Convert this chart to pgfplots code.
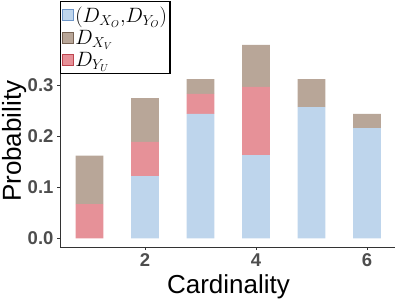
\documentclass[border=0pt]{standalone}
\usepackage{pgfplots}
\pgfplotsset{compat=1.18}
\usepackage{fontspec}
\setmainfont{Liberation Sans}
\definecolor{cblue}{RGB}{190,213,236}
\definecolor{cred}{RGB}{230,145,152}
\definecolor{cbrown}{RGB}{184,166,152}
\definecolor{bblue}{RGB}{110,150,200}
\definecolor{bred}{RGB}{190,70,80}
\definecolor{bbrown}{RGB}{120,100,85}
\definecolor{tickgray}{RGB}{77,77,77}
\pgfplotstableread{
x blue red brown
1 0     0.067 0.095
2 0.122 0.067 0.086
3 0.244 0.039 0.029
4 0.163 0.134 0.082
5 0.257 0     0.055
6 0.216 0     0.028
}\data
\begin{document}
\begin{tikzpicture}
\path[use as bounding box] (0,0) rectangle (398pt,299pt);
\begin{axis}[
  at={(60pt,51.8pt)}, anchor=south west,
  scale only axis, width=335pt, height=211.9pt,
  xmin=0.468, xmax=6.505, ymin=-0.0175, ymax=0.398,
  ybar stacked, bar width=0.5,
  axis lines=left, axis line style={-, draw=black!80, line width=0.9pt},
  xtick={2,4,6}, ytick={0,0.1,0.2,0.3},
  tick style={draw=black!80, line width=0.9pt},
  tick align=outside, major tick length=3pt,
  ticklabel style={font=\bfseries\fontsize{18.5}{18.5}\selectfont, text=tickgray},
  yticklabel style={/pgf/number format/.cd, fixed, zerofill, precision=1, assume math mode=true},
  xticklabel style={/pgf/number format/assume math mode=true},
  xlabel={Cardinality}, ylabel={Probability},
  label style={font=\fontsize{26}{26}\selectfont},
  xlabel style={at={(axis description cs:0.503,-0.22)}, anchor=base},
  ylabel style={at={(axis description cs:-0.137,0.5)}, anchor=center},
  legend cell align=left,
  legend style={at={(axis description cs:0,1.161)}, anchor=north west,
    draw=black, line width=1.3pt, fill=white, inner xsep=1pt, inner ysep=3pt,
    font=\fontsize{19.5}{19.5}\selectfont, row sep=2.5pt,
    /tikz/every even column/.append style={column sep=0pt}},
  legend image code/.code={\draw[#1, line width=0.6pt] (0pt,-5pt) rectangle (11pt,6pt);},
]
\addlegendimage{fill=cblue, draw=bblue}
\addlegendentry{$(D_{X_O},\!D_{Y_O})$}
\addlegendimage{fill=cbrown, draw=bbrown}
\addlegendentry{$D_{X_V}$}
\addlegendimage{fill=cred, draw=bred}
\addlegendentry{$D_{Y_U}$}
\addplot[fill=cblue, draw=none, forget plot] table[x=x, y=blue] {\data};
\addplot[fill=cred, draw=none, forget plot] table[x=x, y=red] {\data};
\addplot[fill=cbrown, draw=none, forget plot] table[x=x, y=brown] {\data};
\end{axis}
\end{tikzpicture}
\end{document}
